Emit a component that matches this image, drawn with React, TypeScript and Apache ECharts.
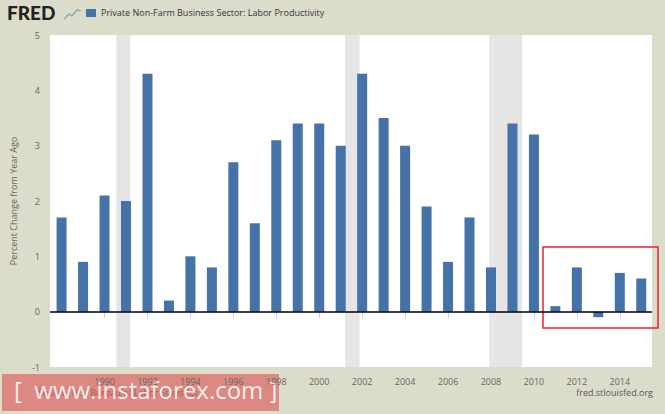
import React, { useEffect, useRef } from "react";
import * as echarts from "echarts";

const years = [1988,1989,1990,1991,1992,1993,1994,1995,1996,1997,1998,1999,2000,2001,2002,2003,2004,2005,2006,2007,2008,2009,2010,2011,2012,2013,2014,2015];
const values = [1.7,0.9,2.1,2.0,4.3,0.2,1.0,0.8,2.7,1.6,3.1,3.4,3.4,3.0,4.3,3.5,3.0,1.9,0.9,1.7,0.8,3.4,3.2,0.1,0.8,-0.1,0.7,0.6];
const recessions = [[1990.55, 1991.2], [2001.2, 2001.88], [2007.92, 2009.45]];
const tickYears = [1990,1992,1994,1996,1998,2000,2002,2004,2006,2008,2010,2012,2014];

export default function App() {
  const ref = useRef<HTMLDivElement>(null);
  useEffect(() => {
    const chart = echarts.init(ref.current!, undefined, { renderer: "svg" });
    chart.setOption({
      animation: false,
      backgroundColor: "#dcdccb",
      textStyle: { fontFamily: "Open Sans" },
      grid: { left: 50, right: 13, top: 35, bottom: 47, outerBoundsMode: "none", containLabel: false, backgroundColor: "#ffffff", show: true, borderWidth: 0 },
      xAxis: {
        type: "value", min: 1987.46, max: 2015.5,
        axisLine: { show: false },
        axisTick: { show: true, customValues: tickYears, lineStyle: { color: "#c0d0e0" }, length: 6 },
        axisLabel: { customValues: tickYears, color: "#666", fontSize: 9, margin: 10, formatter: (v: number) => String(v) },
        splitLine: { show: false },
      },
      yAxis: {
        type: "value", min: -1, max: 5, interval: 1,
        name: "Percent Change from Year Ago", nameLocation: "middle", nameGap: 32,
        nameTextStyle: { color: "#666", fontSize: 9 },
        axisLabel: { color: "#666", fontSize: 9, margin: 10 },
        axisLine: { show: false }, axisTick: { show: false },
        splitLine: { show: false },
      },
      series: [{
        type: "bar", name: "Private Non-Farm Business Sector: Labor Productivity",
        data: years.map((y, i) => [y, values[i]]),
        barWidth: 10, itemStyle: { color: "#4572a7" },
        markArea: { silent: true, itemStyle: { color: "#e5e5e5" }, data: recessions.map(r => [{ xAxis: r[0] }, { xAxis: r[1] }]) },
        markLine: { silent: true, symbol: "none", label: { show: false }, lineStyle: { color: "#000", width: 1.5, type: "solid" }, data: [{ yAxis: 0 }] },
        z: 3,
      }],
      graphic: [
        { type: "text", left: 7, top: 3, style: { text: "FRED", font: "900 19px Lato", fill: "#222" } },
        { type: "polyline", shape: { points: [[64,19],[69,14],[72,16],[77,10],[81,11]] }, style: { stroke: "#7aa0c8", lineWidth: 1.2, fill: "none" } },
        { type: "rect", shape: { x: 86, y: 9, width: 10, height: 8 }, style: { fill: "#4572a7" } },
        { type: "text", left: 101, top: 8, style: { text: "Private Non-Farm Business Sector: Labor Productivity", font: "9px Open Sans", fill: "#333" } },
        { type: "text", left: 38, top: 388, style: { text: "Source: U.S. Bureau of Labor Statistics", font: "9px Open Sans", fill: "#555" } },
        { type: "text", right: 12, top: 388, style: { text: "fred.stlouisfed.org", font: "9px Open Sans", fill: "#555" } },
        { type: "rect", shape: { x: 543, y: 247, width: 115, height: 81 }, style: { fill: "none", stroke: "#e8202a", lineWidth: 1.5 } },
        { type: "rect", shape: { x: 2, y: 374, width: 277, height: 37 }, style: { fill: "rgba(222,90,90,0.65)" } },
        { type: "text", left: 14, top: 377, style: { text: "[  www.instaforex.com ]", font: "24px Open Sans", fill: "rgba(255,255,255,0.9)" } },
      ],
    });
    return () => chart.dispose();
  }, []);
  return <div ref={ref} style={{ width: 665, height: 414, position: "absolute", left: 0, top: 0 }} />;
}
